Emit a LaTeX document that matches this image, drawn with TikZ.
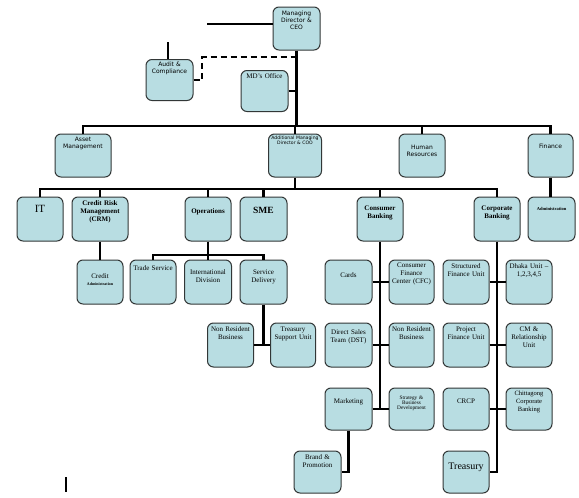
\documentclass[tikz,border=0pt]{standalone}
\usepackage{fontspec}
\setmainfont{Liberation Serif}
\setsansfont{DejaVu Sans}
\usepackage{tikz}
\usetikzlibrary{positioning}
\definecolor{unitfill}{RGB}{184,221,226}
\definecolor{unitline}{RGB}{50,55,55}

\begin{document}
\begin{tikzpicture}[
		x=1pt, y=-1pt,
		node distance=16pt,
		unit/.style={rectangle, draw=unitline, fill=unitfill, line width=1pt, rounded corners=6pt, minimum width=47pt, minimum height=43pt, inner sep=0pt},
		toplbl/.style={anchor=north, yshift=-#1, text width=46pt, align=center, inner sep=0pt},
		toplbl/.default=3pt,
		sans/.style={font=\sffamily\fontsize{6}{7.2}\selectfont},
		tinysans/.style={font=\sffamily\fontsize{4.6}{5.4}\selectfont},
		serif/.style={font=\fontsize{7}{8}\selectfont},
		serifb/.style={font=\bfseries\fontsize{7}{8}\selectfont},
		link/.style={line width=2.6pt},
		dashlink/.style={line width=2.6pt, dash pattern=on 6pt off 4pt}
		]
		\useasboundingbox[fill=white] (0,0) rectangle (579,498);
		
		% Top management
		\node[unit, label={[toplbl=4pt, sans]north:{Managing\\Director \&\\CEO}}] (md) at (296.5,28.5) {};
		\node[unit, minimum height=41pt, label={[toplbl=3pt, sans]north:{Audit \&\\Compliance}}] (audit) at (169.5,80) {};
		\node[unit, minimum height=41pt, label={[toplbl=3pt, serif]north:{MD's Office}}] (mdoffice) at (264.5,91) {};
		
		% First level
		\node[unit, minimum width=56pt, label={[toplbl=3pt, sans]north:{Asset\\Management}}] (asset) at (83,155.5) {};
		\node[unit, minimum width=53pt, label={[toplbl=2pt, tinysans, text width=54pt]north:{Additional Managing\\Director \& COO}}] (amd) at (295,155.5) {};
		\node[unit, minimum width=46pt, label={[toplbl=11pt, sans]north:{Human\\Resources}}] (hr) at (422,155.5) {};
		\node[unit, minimum width=45pt, label={[toplbl=10pt, sans]north:{Finance}}] (finance) at (550.5,155.5) {};
		
		% Second level
		\node[unit, minimum width=46pt, minimum height=44pt, label={[toplbl=9pt, font=\fontsize{11}{12}\selectfont]north:{IT}}] (it) at (40,219) {};
		\node[unit, minimum width=56pt, minimum height=44pt, label={[toplbl=4pt, serifb]north:{Credit Risk\\Management\\(CRM)}}] (crm) at (100,219) {};
		\node[unit, minimum width=46pt, minimum height=44pt, label={[toplbl=12pt, serifb]north:{Operations}}] (ops) at (208,219) {};
		\node[unit, minimum height=44pt, label={[toplbl=11pt, font=\bfseries\fontsize{9.5}{11}\selectfont]north:{SME}}] (sme) at (263.5,219) {};
		\node[unit, minimum width=46pt, minimum height=44pt, label={[toplbl=9pt, serifb]north:{Consumer\\Banking}}] (cons) at (380,219) {};
		\node[unit, minimum width=46pt, minimum height=44pt, label={[toplbl=9pt, serifb]north:{Corporate\\Banking}}] (corp) at (497,219) {};
		\node[unit, minimum height=44pt, label={[toplbl=11pt, font=\bfseries\fontsize{4.5}{5}\selectfont]north:{Administration}}] (admin) at (551.5,219) {};
		
		% Credit and operations units
		\node[unit, minimum width=46pt, minimum height=44pt, label={[toplbl=14pt, serif]north:{Credit\\[-1pt]{\bfseries\fontsize{4}{5}\selectfont Administration}}}] (credit) at (100,282) {};
		\node[unit, minimum width=46pt, minimum height=44pt, label={[toplbl=6pt, serif]north:{Trade Service}}] (trade) at (153,282) {};
		\node[unit, minimum height=44pt, label={[toplbl=10pt, serif]north:{International\\Division}}] (intl) at (208,282) {};
		\node[unit, minimum height=44pt, label={[toplbl=10pt, serif]north:{Service\\Delivery}}] (delivery) at (263.5,282) {};
		\node[unit, minimum width=46pt, minimum height=44pt, label={[toplbl=4pt, serif]north:{Non Resident\\Business}}] (nrbops) at (230.5,345) {};
		\node[unit, minimum width=45pt, minimum height=44pt, label={[toplbl=4pt, serif]north:{Treasury\\Support Unit}}] (tsu) at (293,345) {};
		
		% Consumer banking units
		\node[unit, minimum height=44pt, label={[toplbl=13pt, serif]north:{Cards}}] (cards) at (348.5,282) {};
		\node[unit, minimum width=45pt, minimum height=44pt, right=of cards, label={[toplbl=3pt, serif]north:{Consumer\\Finance\\Center (CFC)}}] (cfc) {};
		\node[unit, minimum height=44pt, label={[toplbl=7pt, serif]north:{Direct Sales\\Team (DST)}}] (dst) at (348.5,345) {};
		\node[unit, minimum width=45pt, minimum height=44pt, right=of dst, label={[toplbl=4pt, serif]north:{Non Resident\\Business}}] (nrbcons) {};
		\node[unit, minimum height=42pt, label={[toplbl=11pt, serif]north:{Marketing}}] (mkt) at (348.5,409) {};
		\node[unit, minimum width=45pt, minimum height=42pt, right=of mkt, label={[toplbl=8pt, font=\fontsize{5.3}{4.6}\selectfont]north:{Strategy \&\\Business\\Development}}] (strategy) {};
		\node[unit, minimum height=42pt, label={[toplbl=4pt, serif]north:{Brand \&\\Promotion}}] (brand) at (317.5,472) {};
		
		% Corporate banking units
		\node[unit, minimum width=46pt, minimum height=44pt, label={[toplbl=4pt, serif]north:{Structured\\Finance Unit}}] (sfu) at (466,282) {};
		\node[unit, minimum width=46pt, minimum height=44pt, right=of sfu, label={[toplbl=4pt, serif]north:{Dhaka Unit --\\1,2,3,4,5}}] (dhaka) {};
		\node[unit, minimum width=46pt, minimum height=44pt, label={[toplbl=4pt, serif]north:{Project\\Finance Unit}}] (pfu) at (466,345) {};
		\node[unit, minimum width=46pt, minimum height=44pt, right=of pfu, label={[toplbl=4pt, serif]north:{CM \&\\Relationship\\Unit}}] (cmrel) {};
		\node[unit, minimum width=46pt, minimum height=42pt, label={[toplbl=11pt, serif]north:{CRCP}}] (crcp) at (466,409) {};
		\node[unit, minimum width=46pt, minimum height=42pt, right=of crcp, label={[toplbl=3pt, font=\fontsize{6.5}{8}\selectfont]north:{Chittagong\\Corporate\\Banking}}] (ctg) {};
		\node[unit, minimum width=46pt, minimum height=42pt, label={[toplbl=12pt, font=\fontsize{10}{11}\selectfont]north:{Treasury}}] (treasury) at (466,472) {};
		
		% Free ends and bars
		\coordinate (mdstub) at (207,24);
		\coordinate (auditstub) at (168,42);
		\coordinate (dashbend) at (202,57);
		\coordinate (bar1) at (0,126);
		\coordinate (bar2) at (0,189);
		\coordinate (bar3) at (0,255);
		\coordinate (tick) at (66,477);
		
		% Top connectors
		\draw[link] (mdstub) -- (mdstub -| md.west);
		\draw[link] (auditstub) -- (auditstub |- audit.north);
		\draw[dashlink] (audit.east) -| (dashbend) -- (dashbend -| md.south);
		\draw[link] (mdoffice.east) -- (mdoffice.east -| md.south);
		\draw[link] (md.south) -- (md.south |- bar1);
		\draw[link] (asset.north) |- (finance.north |- bar1) -- (finance.north);
		\draw[link] (amd.north) -- (amd.north |- bar1);
		\draw[link] (hr.north) -- (hr.north |- bar1);
		
		% Second level connectors
		\draw[link] (amd.south) -- (amd.south |- bar2);
		\draw[link] (it.north) |- (corp.north |- bar2) -- (corp.north);
		\foreach \n in {crm, ops, sme, cons}
			\draw[link] (\n.north) -- (\n.north |- bar2);
		\draw[link] (finance.south) -- (finance.south |- admin.north);
		
		% Credit and operations
		\draw[link] (crm) -- (credit);
		\draw[link] (ops.south) -- (ops.south |- bar3);
		\draw[link] (trade.north) |- (delivery.north |- bar3) -- (delivery.north);
		\draw[link] (intl.north) -- (intl.north |- bar3);
		\draw[link] (delivery.south) -- (delivery.south |- nrbops.east);
		\draw[link] (nrbops) -- (tsu);
		
		% Consumer banking
		\draw[link] (cons.south) -- (cons.south |- mkt.east);
		\draw[link] (cards) -- (cfc);
		\draw[link] (dst) -- (nrbcons);
		\draw[link] (mkt) -- (strategy);
		\draw[link] (mkt.south) |- (brand.east);
		
		% Corporate banking
		\draw[link] (corp.south) |- (treasury.east);
		\draw[link] (sfu) -- (dhaka);
		\draw[link] (pfu) -- (cmrel);
		\draw[link] (crcp) -- (ctg);
		
		\draw[line width=1.6pt] (tick) -- ++(0,15);
		
	\end{tikzpicture}
\end{document}
